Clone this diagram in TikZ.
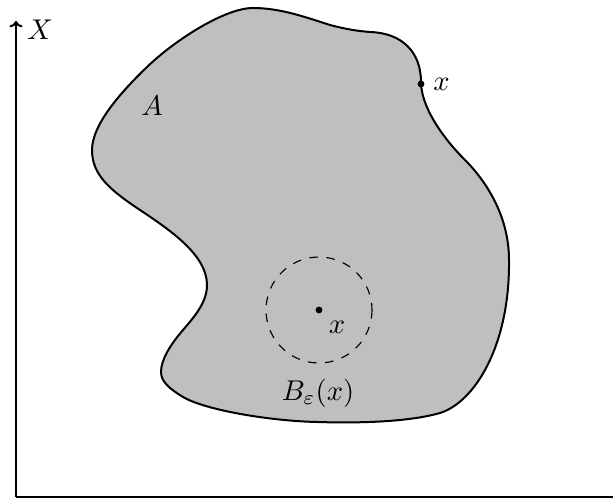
\documentclass[tikz,border=0pt]{standalone}
\usetikzlibrary{arrows.meta}
\begin{document}
\begin{tikzpicture}[x=0.35pt,y=-0.35pt,
  dotnode/.style={circle,fill=black,inner sep=0pt,minimum size=2.4pt},
  lbl/.style={inner sep=1pt}]
\useasboundingbox (0,0) rectangle (613,504);
% axes
\coordinate (o) at (16,497);
\coordinate (ytop) at (16,21);
\coordinate (xend) at (613,497);
\draw[line width=0.7pt,-{To[length=2.2pt,width=4.6pt]}] (o) -- (ytop);
\draw[line width=0.7pt] (o) -- (xend);
\node[lbl] (X) at (40,30) {$X$};
% set A
\draw[line width=0.7pt,fill=lightgray]
 (253,8) .. controls (280,8) and (305,17) .. (330,25)
 .. controls (345,29) and (357,31) .. (370,32)
 .. controls (402,33) and (421,52) .. (421,82)
 .. controls (421,105) and (440,135) .. (465,160)
 .. controls (485,180) and (509,215) .. (509,260)
 .. controls (510,345) and (475,402) .. (440,413)
 .. controls (405,423) and (350,423) .. (317,422)
 .. controls (270,421) and (205,410) .. (183,397)
 .. controls (170,389) and (161,382) .. (161,372)
 .. controls (161,360) and (170,345) .. (183,330)
 .. controls (195,316) and (207,302) .. (207,285)
 .. controls (207,255) and (170,230) .. (140,210)
 .. controls (110,190) and (92,175) .. (92,150)
 .. controls (92,125) and (120,93) .. (147,67)
 .. controls (175,40) and (225,8) .. (253,8) -- cycle;
\node[lbl] (A) at (152,106) {$A$};
% boundary point
\node[dotnode] (xb) at (421,84) {};
\node[lbl,anchor=west] (xbl) at (430,84) {$x$};
% interior point with ball
\node[dotnode] (xi) at (319,310) {};
\draw[dashed,line width=0.4pt] (xi) circle[radius=53];
\node[lbl] (xil) at (337,327) {$x$};
\node[lbl] (B) at (318,393) {$B_\varepsilon(x)$};
\end{tikzpicture}
\end{document}
